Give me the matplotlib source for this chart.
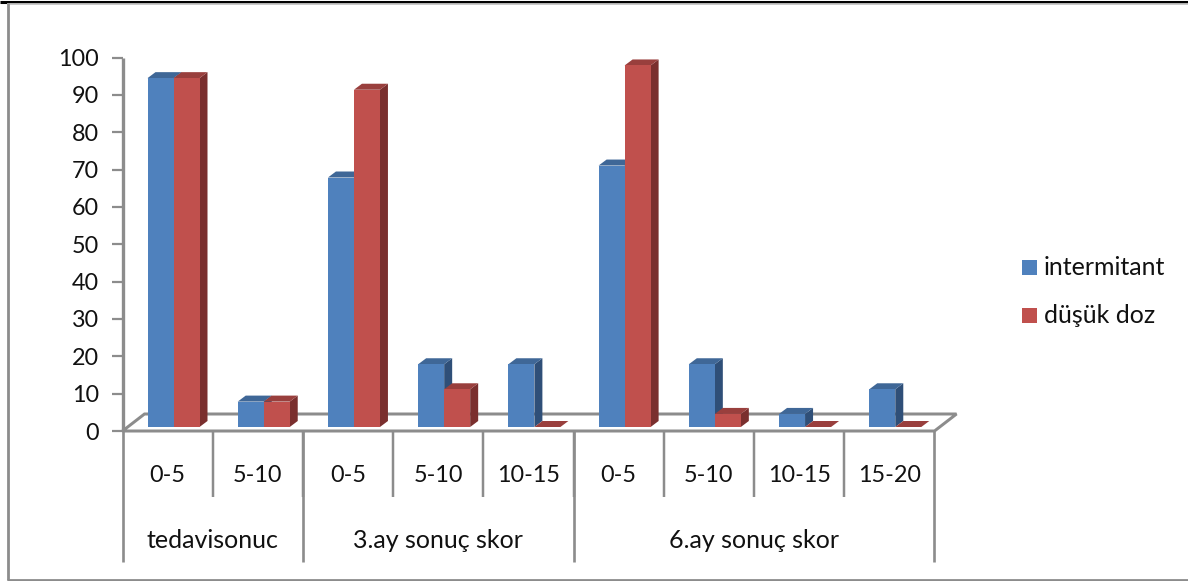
import matplotlib
matplotlib.use("Agg")
import matplotlib.pyplot as plt
from matplotlib.patches import Polygon, Rectangle
from matplotlib.lines import Line2D

W, H = 1188, 581
plt.rcParams['font.family'] = ['Lato', 'DejaVu Sans']

sub_labels = ['0-5', '5-10', '0-5', '5-10', '10-15', '0-5', '5-10', '10-15', '15-20']
group_labels = ['tedavisonuc', '3.ay sonuç skor', '6.ay sonuç skor']
group_sizes = [2, 3, 4]
series_names = ['intermitant', 'düşük doz']
intermitant = [93.4, 6.8, 66.8, 16.8, 16.8, 70, 16.8, 3.5, 10.1]
dusuk_doz = [93.4, 6.8, 90.3, 10.1, 0, 96.8, 3.5, 0, 0]
yticks = list(range(0, 101, 10))

BLUE, BLUE_TOP, BLUE_SIDE = '#4f81bd', '#3f6797', '#2f4f78'
RED, RED_TOP, RED_SIDE = '#c0504d', '#993f3d', '#7a2f2e'
GREY = '#8c8c8c'
TXT = '#111111'
FS_NUM = 16.8
FS_TXT = 18.0

fig = plt.figure(figsize=(W / 100, H / 100), dpi=100, facecolor='white')
L, R, T, B = 122.5, 934.5, 57.5, 431.0
ax = fig.add_axes([L / W, 1 - B / H, (R - L) / W, (B - T) / H])
ax.set_xlim(0, len(sub_labels))
ax.set_ylim(0, 100)
ax.patch.set_alpha(0)
for s in ax.spines.values():
    s.set_visible(False)
ax.set_xticks([])
ax.set_yticks(yticks)
ax.set_yticklabels([str(v) for v in yticks], fontsize=FS_NUM, color=TXT)
ax.tick_params(axis='y', length=8, width=1.6, color=GREY, pad=9)

xu = (R - L) / len(sub_labels)
yu = (B - T) / 100
dx, dy = 8 / xu, 6 / yu          # bar depth in data units
fx, fy = 22 / xu, 17 / yu        # floor depth in data units
base = 4 / yu
bw = 26 / xu
shift = 25 / xu

clip = dict(clip_on=False)
lw = 2.4
ax.plot([0, 0], [0, 100], color=GREY, lw=lw, **clip, solid_capstyle='butt')
ax.add_patch(Polygon([(0, 0), (fx, fy), (len(sub_labels) + fx, fy), (len(sub_labels), 0)],
                     closed=True, fc='white', ec=GREY, lw=lw * 0.9, zorder=1, **clip))


def bar3d(x, v, front, top, side, z):
    y0, y1 = base, base + v
    ax.add_patch(Polygon([(x + bw, y0), (x + bw + dx, y0 + dy), (x + bw + dx, y1 + dy), (x + bw, y1)],
                         closed=True, fc=side, ec='none', zorder=z, **clip))
    ax.add_patch(Polygon([(x, y1), (x + dx, y1 + dy), (x + bw + dx, y1 + dy), (x + bw, y1)],
                         closed=True, fc=top, ec='none', zorder=z, **clip))
    if v > 0:
        ax.bar(x, v, width=bw, bottom=base, align='edge', color=front, zorder=z + 0.1)


for i, (a, b) in enumerate(zip(intermitant, dusuk_doz)):
    x = i + shift
    bar3d(x, a, BLUE, BLUE_TOP, BLUE_SIDE, 3)
    bar3d(x + bw, b, RED, RED_TOP, RED_SIDE, 4)

for i, lab in enumerate(sub_labels):
    ax.text(i + 0.5, -45 / yu, lab, ha='center', va='center', fontsize=FS_NUM, color=TXT, clip_on=False)
    if i > 0:
        ax.plot([i, i], [0, -66 / yu], color=GREY, lw=lw * 0.75, **clip, solid_capstyle='butt')
pos = 0
edges = [0]
for lab, n in zip(group_labels, group_sizes):
    ax.text(pos + n / 2, -109 / yu, lab, ha='center', va='center', fontsize=FS_TXT, color=TXT, clip_on=False)
    pos += n
    edges.append(pos)
for e in edges:
    ax.plot([e, e], [0, -131 / yu], color=GREY, lw=lw * 0.8, **clip, solid_capstyle='butt')


def fline(x0, y0, x1, y1, c, w):
    fig.add_artist(Line2D([x0 / W, x1 / W], [1 - y0 / H, 1 - y1 / H], color=c, lw=w,
                          solid_capstyle='butt'))


fline(0, 2.0, W, 2.0, '#000000', 2.2)
fline(7, 4.0, W, 4.0, '#c4c4c4', 1.3)
fline(7.5, 3, 7.5, 580, GREY, 2.0)
fline(7, 579.5, W, 579.5, GREY, 2.0)

for name, c, cy in zip(series_names, (BLUE, RED), (267.5, 315.5)):
    fig.add_artist(Rectangle((1022 / W, 1 - (cy + 7.5) / H), 15 / W, 15 / H,
                             transform=fig.transFigure, fc=c, ec='none'))
    fig.text(1044 / W, 1 - cy / H, name, ha='left', va='center', fontsize=FS_TXT, color=TXT)

fig.savefig('out.png', dpi=100)
